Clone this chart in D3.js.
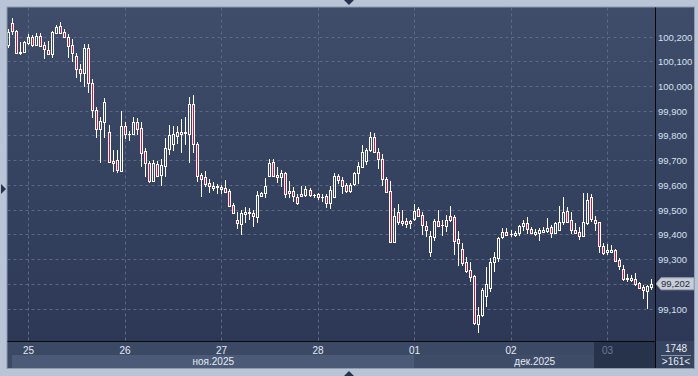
<!DOCTYPE html>
<html>
<head>
<meta charset="utf-8">
<script src="https://cdn.jsdelivr.net/npm/d3@7"></script>
<style>
  body { margin: 0; background: #b9c5d6; }
  svg { display: block; }
  text { font-family: "Liberation Sans", Arial, sans-serif; }
</style>
</head>
<body>
<svg id="chart"></svg>
<script>
// hourly candles, 161 visible
const opens = [
  100168,100258,100225,100137,100138,100175,100199,100168,100204,100168,
  100147,100130,100217,100244,100219,100201,100168,100123,100069,100053,
  100154,100015,99905,99827,99858,99817,99699,99703,99658,99840,
  99808,99808,99855,99831,99739,99692,99619,99686,99642,99680,
  99746,99766,99801,99815,99811,99808,99928,99766,99641,99633,
  99608,99591,99595,99587,99588,99577,99521,99460,99444,99483,
  99494,99487,99473,99558,99568,99639,99696,99642,99633,99651,
  99577,99577,99554,99557,99561,99581,99561,99564,99554,99557,
  99528,99554,99638,99622,99602,99577,99604,99649,99676,99699,
  99743,99797,99734,99705,99625,99577,99372,99494,99456,99456,
  99456,99463,99503,99480,99436,99332,99392,99456,99440,99437,
  99476,99471,99383,99341,99289,99258,99234,99040,99076,99153,
  99185,99290,99308,99390,99413,99404,99399,99406,99436,99447,
  99422,99403,99406,99413,99416,99433,99409,99420,99451,99496,
  99460,99420,99413,99396,99447,99554,99460,99451,99355,99332,
  99332,99339,99298,99261,99220,99217,99221,99204,99190,99173,
  99190
];
const highs = [
  100232,100276,100228,100181,100183,100212,100208,100215,100215,100179,
  100184,100225,100249,100259,100232,100212,100192,100134,100090,100172,
  100172,100029,99918,99878,99952,99844,99743,99743,99902,99858,
  99821,99878,99874,99855,99750,99699,99703,99699,99705,99793,
  99844,99841,99840,99868,99878,99959,99966,99774,99649,99659,
  99626,99615,99604,99602,99622,99584,99528,99492,99500,99511,
  99509,99500,99576,99574,99631,99707,99705,99676,99662,99653,
  99618,99595,99564,99599,99599,99591,99565,99568,99565,99564,
  99597,99649,99645,99633,99608,99611,99655,99696,99763,99750,
  99815,99813,99750,99726,99635,99618,99507,99525,99500,99467,
  99460,99525,99514,99494,99456,99417,99464,99500,99460,99480,
  99517,99480,99417,99366,99312,99291,99238,99109,99185,99270,
  99306,99331,99392,99426,99426,99420,99417,99440,99460,99473,
  99430,99422,99429,99433,99467,99440,99453,99517,99554,99514,
  99494,99447,99433,99568,99568,99565,99476,99453,99368,99363,
  99359,99341,99308,99278,99242,99238,99244,99210,99197,99197,
  99221
];
const lows = [
  100156,100208,100131,100127,100134,100168,100161,100164,100161,100110,
  100127,100116,100215,100215,100195,100114,100100,100033,100019,99999,
  99972,99871,99793,99692,99793,99689,99653,99649,99653,99786,
  99781,99804,99804,99676,99633,99611,99614,99633,99597,99635,
  99723,99739,99766,99732,99763,99689,99732,99615,99552,99595,
  99568,99577,99564,99565,99568,99514,99487,99422,99399,99449,
  99460,99433,99449,99552,99548,99635,99635,99611,99595,99550,
  99550,99534,99521,99554,99554,99552,99548,99541,99534,99507,
  99503,99550,99604,99565,99568,99568,99599,99604,99669,99682,
  99734,99730,99665,99599,99570,99367,99368,99440,99437,99429,
  99424,99456,99471,99399,99392,99312,99376,99433,99396,99413,
  99453,99318,99274,99274,99244,99208,99035,99003,99068,99109,
  99169,99250,99291,99383,99396,99390,99390,99396,99417,99403,
  99403,99396,99376,99406,99406,99386,99403,99417,99440,99447,
  99403,99406,99379,99390,99440,99453,99417,99325,99318,99318,
  99325,99291,99258,99215,99210,99210,99193,99180,99139,99099,
  99177
];
const closes = [
  100220,100225,100134,100141,100181,100199,100168,100204,100164,100150,
  100130,100221,100242,100217,100201,100165,100137,100069,100053,100154,
  100015,99905,99828,99860,99936,99696,99689,99662,99840,99808,
  99806,99858,99829,99732,99689,99619,99689,99639,99682,99750,
  99804,99807,99815,99807,99817,99928,99766,99639,99627,99604,
  99599,99599,99596,99595,99574,99517,99490,99447,99490,99491,
  99487,99477,99561,99568,99597,99692,99639,99633,99651,99565,
  99568,99557,99528,99565,99585,99561,99560,99554,99553,99528,
  99581,99639,99622,99599,99577,99602,99651,99678,99736,99743,
  99797,99734,99705,99625,99574,99372,99476,99453,99449,99443,
  99447,99498,99476,99440,99420,99395,99456,99437,99439,99460,
  99460,99376,99366,99287,99254,99228,99044,99076,99177,99201,
  99290,99310,99386,99413,99399,99403,99409,99436,99447,99422,
  99406,99413,99420,99420,99426,99409,99447,99453,99491,99453,
  99420,99409,99396,99451,99541,99463,99449,99355,99328,99339,
  99339,99295,99275,99221,99227,99227,99200,99184,99177,99193,
  99202
];

const priceTicks = [99100, 99200, 99300, 99400, 99500, 99600, 99700, 99800, 99900, 100000, 100100, 100200];
const dayLabels = ["25", "26", "27", "28", "01", "02", "03"];
const dayIndex = [5, 29, 53, 77, 101, 125, 149];
const monthLabels = ["ноя.2025", "дек.2025"];
const monthStart = [0, 101];
const lastPrice = 99202;
const totalBars = "1748";
const shownBars = ">161<";

const width = 698, height = 376;
const plot = { left: 7.5, top: 7.5, right: 655, bottom: 341 };
const panelRight = 694;
const axisBottom = 368;

const svg = d3.select("#chart").attr("width", width).attr("height", height);

const defs = svg.append("defs");
const grad = defs.append("linearGradient").attr("id", "bg").attr("x1", 0).attr("y1", 0).attr("x2", 0).attr("y2", 1);
grad.append("stop").attr("offset", "0%").attr("stop-color", "#3f4d6a");
grad.append("stop").attr("offset", "100%").attr("stop-color", "#2c3856");
defs.append("clipPath").attr("id", "plotClip")
  .append("rect")
  .attr("x", plot.left).attr("y", plot.top)
  .attr("width", plot.right - plot.left).attr("height", plot.bottom - plot.top);

// outer frame + background
svg.append("rect").attr("width", width).attr("height", height).attr("fill", "#b9c5d6");
svg.append("rect")
  .attr("x", plot.left - 1).attr("y", plot.top - 1)
  .attr("width", panelRight - plot.left + 2).attr("height", axisBottom - plot.top + 2)
  .attr("fill", "#8d9ab0");
svg.append("rect")
  .attr("x", plot.left).attr("y", plot.top)
  .attr("width", panelRight - plot.left).attr("height", plot.bottom - plot.top)
  .attr("fill", "url(#bg)");

const x = d3.scaleLinear().domain([0, 160]).range([8.5, 651.7]);
const y = d3.scaleLinear().domain([99100, 100200]).range([309, 37]);
const px = v => Math.floor(v) + 0.5;

// grid
const grid = svg.append("g").attr("clip-path", "url(#plotClip)");
grid.selectAll("line.h").data(priceTicks).join("line")
  .attr("class", "h")
  .attr("x1", plot.left).attr("x2", plot.right)
  .attr("y1", d => px(y(d))).attr("y2", d => px(y(d)))
  .attr("stroke", "#5b6985").attr("stroke-dasharray", "3,3");
grid.selectAll("line.v").data(dayIndex).join("line")
  .attr("class", "v")
  .attr("y1", plot.top).attr("y2", plot.bottom)
  .attr("x1", d => px(x(d))).attr("x2", d => px(x(d)))
  .attr("stroke", "#5b6985").attr("stroke-dasharray", "3,3");

// candles
const candles = d3.range(opens.length).map(i => ({
  i, o: opens[i], h: highs[i], l: lows[i], c: closes[i]
}));
const cg = svg.append("g").attr("clip-path", "url(#plotClip)");
const candle = cg.selectAll("g.candle").data(candles).join("g").attr("class", "candle");

candle.each(function(d) {
  const g = d3.select(this);
  const cx = px(x(d.i));
  const top = Math.round(y(Math.max(d.o, d.c)));
  const bot = Math.round(y(Math.min(d.o, d.c)));
  const hi = Math.round(y(d.h));
  const lo = Math.round(y(d.l));
  if (hi < top) g.append("line").attr("x1", cx).attr("x2", cx).attr("y1", hi).attr("y2", top).attr("stroke", "#fff");
  if (lo > bot) g.append("line").attr("x1", cx).attr("x2", cx).attr("y1", bot).attr("y2", lo).attr("stroke", "#fff");
  if (bot - top < 2) {
    g.append("rect").attr("x", cx - 1.5).attr("y", top).attr("width", 3).attr("height", Math.max(1, bot - top + 1)).attr("fill", "#fff");
  } else {
    g.append("rect")
      .attr("x", cx - 1).attr("y", top + 0.5)
      .attr("width", 2).attr("height", bot - top)
      .attr("fill", d.c < d.o ? "#d8103c" : "none")
      .attr("stroke", "#fff");
  }
});

// bottom axis band
const band = svg.append("g");
band.append("rect").attr("x", plot.left).attr("y", plot.bottom).attr("width", plot.right - plot.left).attr("height", axisBottom - plot.bottom).attr("fill", "#3b4965");
band.append("rect").attr("x", 12).attr("y", 355).attr("width", x(monthStart[1]) - 12).attr("height", axisBottom - 355).attr("fill", "#4b5a77");
band.append("rect").attr("x", x(monthStart[1])).attr("y", 355).attr("width", plot.right - x(monthStart[1])).attr("height", axisBottom - 355).attr("fill", "#3e4c68");
band.append("rect").attr("x", 594).attr("y", plot.bottom + 1).attr("width", plot.right - 594).attr("height", axisBottom - plot.bottom - 1).attr("fill", "#27324b");

band.selectAll("text.day").data(dayLabels).join("text")
  .attr("class", "day")
  .attr("x", (d, i) => x(dayIndex[i]))
  .attr("y", 353.5)
  .attr("text-anchor", "middle")
  .attr("font-size", "10px")
  .attr("fill", (d, i) => i === dayLabels.length - 1 ? "#6c7993" : "#e6ebf3")
  .text(d => d);

const monthCenters = [(12 + x(monthStart[1])) / 2, (x(monthStart[1]) + plot.right) / 2];
band.selectAll("text.month").data(monthLabels).join("text")
  .attr("class", "month")
  .attr("x", (d, i) => monthCenters[i])
  .attr("y", 365)
  .attr("text-anchor", "middle")
  .attr("font-size", "10px")
  .attr("fill", "#e6ebf3")
  .text(d => d);

// price axis panel (labels hidden where the last-price tag sits)
const ty = y(lastPrice);
const axisG = svg.append("g");
axisG.selectAll("text.price").data(priceTicks.filter(d => Math.abs(y(d) - ty) > 10)).join("text")
  .attr("class", "price")
  .attr("x", 658)
  .attr("y", d => y(d) + 3.5)
  .attr("font-size", "9.5px")
  .attr("fill", "#d6e0f0")
  .text(d => d3.format(",")(d));

// bottom-right counter
axisG.append("rect").attr("x", plot.right).attr("y", plot.bottom).attr("width", panelRight - plot.right).attr("height", axisBottom - plot.bottom).attr("fill", "#37445f");
axisG.append("text").attr("x", 676).attr("y", 352).attr("text-anchor", "middle").attr("font-size", "10px").attr("fill", "#e6ebf3").text(totalBars);
axisG.append("line").attr("x1", 661).attr("x2", 691).attr("y1", 355.5).attr("y2", 355.5).attr("stroke", "#8794ab");
axisG.append("text").attr("x", 676).attr("y", 365).attr("text-anchor", "middle").attr("font-size", "10px").attr("fill", "#e6ebf3").text(shownBars);

// last price tag
axisG.append("path")
  .attr("d", `M656,${ty} L661,${ty - 6} L694,${ty - 6} L694,${ty + 6} L661,${ty + 6} Z`)
  .attr("fill", "#c8cdd6").attr("stroke", "#9aa3b3");
axisG.append("text").attr("x", 661).attr("y", ty + 3.5).attr("font-size", "9.5px").attr("fill", "#1f2a40").text(d3.format(",")(lastPrice));

// separators
svg.append("line").attr("x1", plot.right + 0.5).attr("x2", plot.right + 0.5).attr("y1", plot.top).attr("y2", axisBottom).attr("stroke", "#05070c");
svg.append("line").attr("x1", plot.left).attr("x2", plot.right).attr("y1", plot.bottom + 0.5).attr("y2", plot.bottom + 0.5).attr("stroke", "#05070c");

// frame arrows
svg.append("path").attr("d", "M344,0 L354,0 L349,5 Z").attr("fill", "#26334c");
svg.append("path").attr("d", "M344,376 L354,376 L349,371 Z").attr("fill", "#26334c");
svg.append("path").attr("d", "M1,184 L6,189 L1,194 Z").attr("fill", "#26334c");
</script>
</body>
</html>
